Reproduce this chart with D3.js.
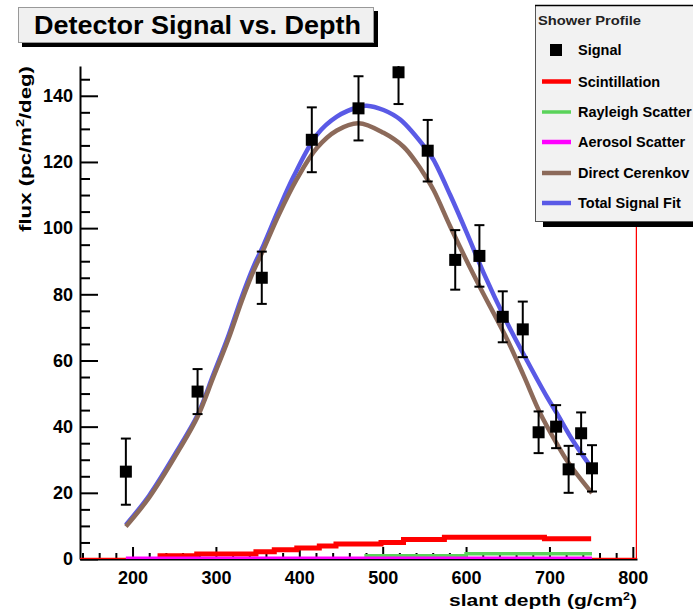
<!DOCTYPE html>
<html><head><meta charset="utf-8">
<script src="https://cdn.jsdelivr.net/npm/d3@7"></script>
<style>
html,body{margin:0;padding:0;background:#fff;}
svg{display:block;font-family:"Liberation Sans",Arial,Helvetica,sans-serif;font-weight:bold;}
</style></head><body>
<svg id="chart" width="693" height="613"></svg>
<script>
// Measured detector signal: slant depth (g/cm²), flux and symmetric error
const signalDepth = [192, 278, 355, 415, 471, 519, 554, 587, 616, 644, 668, 687, 708, 723, 738, 751];
const signalFlux  = [26.4, 50.6, 85.0, 126.7, 136.2, 147.1, 123.4, 90.4, 91.6, 73.2, 69.4, 38.3, 40.0, 27.1, 38.0, 27.4];
const signalErr   = [10.0, 6.8, 7.9, 9.8, 9.7, 9.6, 9.3, 9.0, 9.3, 7.7, 8.4, 6.3, 6.5, 7.1, 6.3, 7.0];

// Total signal fit
const totalDepth = [192, 220, 257, 278, 297, 315, 331, 345, 357, 375, 393, 421, 445, 471, 481, 501, 521, 553, 561, 581, 601, 621, 649, 673, 697, 709, 728, 748];
const totalFlux  = [10.3, 19.2, 34.2, 43.5, 55.8, 67.5, 79.2, 88.3, 94.8, 105.5, 115.5, 128.2, 133.7, 136.6, 137.0, 135.7, 132.8, 123.6, 120.6, 110.0, 98.5, 86.5, 71.5, 60.0, 49.0, 44.0, 35.8, 28.4];

// Direct Cerenkov component
const cerenkovDepth = [192, 220, 257, 278, 297, 315, 331, 345, 357, 375, 397, 421, 445, 471, 501, 525, 541, 549, 561, 581, 601, 617, 649, 669, 689, 709, 723, 751];
const cerenkovFlux  = [9.8, 18.6, 33.5, 43.0, 55.0, 66.5, 78.0, 87.0, 93.5, 103.8, 114.8, 124.2, 129.5, 131.7, 128.8, 124.6, 119.6, 116.6, 111.5, 100.5, 90.0, 82.0, 66.5, 55.5, 44.0, 34.8, 29.0, 19.9];

// Histogrammed components: bin edges (one more than contents) and contents
const scintEdges = [230, 277, 348, 370, 397, 424, 444, 498, 525, 574, 694, 750];
const scintFlux  = [1.0, 1.5, 2.2, 2.8, 3.3, 3.9, 4.5, 5.0, 5.9, 6.6, 6.1];
const rayleighEdges = [478, 600, 751];
const rayleighFlux  = [1.0, 1.6];
const aerosolEdges = [192, 751];
const aerosolFlux  = [0];

// Axes
const xDomain = [137, 805];
const yDomain = [0, 149];
const xTicks = [200, 300, 400, 500, 600, 700, 800];
const yTicks = [0, 20, 40, 60, 80, 100, 120, 140];

const legendHeader = "Shower Profile";
const legendLabels = ["Signal", "Scintillation", "Rayleigh Scatter", "Aerosol Scatter", "Direct Cerenkov", "Total Signal Fit"];
const legendColors = ["#000000", "#ff0000", "#5ad35a", "#ff00ff", "#8c6a5a", "#5a5ae6"];

const svg = d3.select("#chart");
const plot = {left: 80, right: 637, top: 66, bottom: 559};

const x = d3.scaleLinear().domain(xDomain).range([plot.left, plot.right]);
const y = d3.scaleLinear().domain(yDomain).range([plot.bottom, plot.top]);

svg.append("defs").append("clipPath").attr("id", "plotclip")
  .append("rect").attr("x", plot.left).attr("y", plot.top)
  .attr("width", plot.right - plot.left).attr("height", plot.bottom - plot.top);

// ---- Axes ----
const minorX = d3.range(140, 806, 20).filter(v => v % 100 !== 0);
const minorY = d3.range(5, 149, 5).filter(v => v % 20 !== 0);

svg.append("g").attr("transform", `translate(${plot.left},0)`)
  .call(d3.axisLeft(y).tickValues(yTicks).tickSizeInner(-18).tickSizeOuter(0).tickPadding(7).tickFormat(d3.format("d")));
svg.append("g").attr("transform", `translate(${plot.left},0)`)
  .call(d3.axisLeft(y).tickValues(minorY).tickSizeInner(-10).tickSizeOuter(0).tickFormat(""))
  .call(g => g.select(".domain").remove());

svg.append("g").attr("transform", `translate(0,${plot.bottom})`)
  .call(d3.axisBottom(x).tickValues(xTicks).tickSizeInner(-12).tickSizeOuter(0).tickPadding(12).tickFormat(d3.format("d")));
svg.append("g").attr("transform", `translate(0,${plot.bottom})`)
  .call(d3.axisBottom(x).tickValues(minorX).tickSizeInner(-6).tickSizeOuter(0).tickFormat(""))
  .call(g => g.select(".domain").remove());

svg.selectAll(".domain").attr("stroke", "#000").attr("stroke-width", 2);
svg.selectAll(".tick line").attr("stroke", "#000").attr("stroke-width", 2);
svg.selectAll(".tick text").attr("fill", "#000").attr("font-size", 18).attr("font-weight", "bold")
  .attr("font-family", '"Liberation Sans",Arial,sans-serif');

// Axis titles
const yTitle = svg.append("text")
  .attr("transform", `translate(31,${plot.top}) rotate(-90)`)
  .attr("text-anchor", "end").attr("font-size", 17).attr("fill", "#000")
  .attr("textLength", 166).attr("lengthAdjust", "spacingAndGlyphs");
yTitle.append("tspan").text("flux (pc/m");
yTitle.append("tspan").attr("font-size", 11).attr("dy", -7).text("2");
yTitle.append("tspan").attr("dy", 7).text("/deg)");

const xTitle = svg.append("text")
  .attr("x", 637).attr("y", 606)
  .attr("text-anchor", "end").attr("font-size", 17).attr("fill", "#000")
  .attr("textLength", 188).attr("lengthAdjust", "spacingAndGlyphs");
xTitle.append("tspan").text("slant depth (g/cm");
xTitle.append("tspan").attr("font-size", 10).attr("dy", -6).text("2");
xTitle.append("tspan").attr("dy", 6).text(")");

// ---- Data layers ----
const layer = svg.append("g").attr("clip-path", "url(#plotclip)");

function stepPoints(edges, vals) {
  const pts = vals.map((v, i) => [edges[i], v]);
  pts.push([edges[edges.length - 1], vals[vals.length - 1]]);
  return pts;
}
const stepLine = d3.line().x(d => x(d[0])).y(d => y(d[1])).curve(d3.curveStepAfter);

// Scintillation histogram outline along the frame
layer.append("path")
  .attr("d", d3.line().x(d => x(d[0])).y(d => y(d[1]))([[xDomain[0], 0], [xDomain[1], 0], [xDomain[1], yDomain[1]]]))
  .attr("fill", "none").attr("stroke", "#ff0000").attr("stroke-width", 2.5);

layer.append("path").attr("d", stepLine(stepPoints(scintEdges, scintFlux)))
  .attr("fill", "none").attr("stroke", legendColors[1]).attr("stroke-width", 5);
layer.append("path").attr("d", stepLine(stepPoints(rayleighEdges, rayleighFlux)))
  .attr("fill", "none").attr("stroke", legendColors[2]).attr("stroke-width", 3.5);
layer.append("path").attr("d", stepLine(stepPoints(aerosolEdges, aerosolFlux)))
  .attr("fill", "none").attr("stroke", legendColors[3]).attr("stroke-width", 5);

const smooth = d3.line().x(d => x(d[0])).y(d => y(d[1])).curve(d3.curveCatmullRom.alpha(0.5));
layer.append("path").attr("d", smooth(totalDepth.map((d, i) => [d, totalFlux[i]])))
  .attr("fill", "none").attr("stroke", legendColors[5]).attr("stroke-width", 4.5);
layer.append("path").attr("d", smooth(cerenkovDepth.map((d, i) => [d, cerenkovFlux[i]])))
  .attr("fill", "none").attr("stroke", legendColors[4]).attr("stroke-width", 4.5);

// Signal points with error bars
const pts = signalDepth.map((d, i) => ({d, f: signalFlux[i], e: signalErr[i]}));
const eb = layer.append("g").attr("stroke", "#000").attr("stroke-width", 2);
pts.forEach(p => {
  const cx = x(p.d), y0 = y(p.f - p.e), y1 = y(p.f + p.e);
  eb.append("line").attr("x1", cx).attr("x2", cx).attr("y1", y0).attr("y2", y1);
  eb.append("line").attr("x1", cx - 5).attr("x2", cx + 5).attr("y1", y0).attr("y2", y0);
  eb.append("line").attr("x1", cx - 5).attr("x2", cx + 5).attr("y1", y1).attr("y2", y1);
});
layer.append("g").selectAll("rect").data(pts).join("rect")
  .attr("x", p => x(p.d) - 6).attr("y", p => y(p.f) - 6)
  .attr("width", 12).attr("height", 12).attr("fill", "#000");

// ---- Title box ----
svg.append("rect").attr("x", 22).attr("y", 11).attr("width", 356).attr("height", 36).attr("fill", "#000");
svg.append("rect").attr("x", 18.5).attr("y", 7.5).attr("width", 355).attr("height", 35)
  .attr("fill", "#f0f0f0").attr("stroke", "#999").attr("stroke-width", 1);
svg.append("text").attr("x", 34).attr("y", 34).attr("font-size", 25).attr("fill", "#000")
  .attr("textLength", 327).attr("lengthAdjust", "spacingAndGlyphs")
  .text("Detector Signal vs. Depth");

// ---- Legend ----
const lg = svg.append("g");
lg.append("rect").attr("x", 543).attr("y", 11).attr("width", 160).attr("height", 216).attr("fill", "#000");
lg.append("rect").attr("x", 535.5).attr("y", 5.5).attr("width", 170).attr("height", 216)
  .attr("fill", "#f2f2f2").attr("stroke", "#555").attr("stroke-width", 1);
lg.append("line").attr("x1", 535).attr("x2", 693).attr("y1", 5.5).attr("y2", 5.5).attr("stroke", "#000").attr("stroke-width", 1.5);
lg.append("text").attr("x", 538).attr("y", 25).attr("font-size", 13).attr("fill", "#222")
  .attr("textLength", 103).attr("lengthAdjust", "spacingAndGlyphs").text(legendHeader);

const rowY = [50, 81.5, 112, 142, 173, 203];
legendLabels.forEach((lab, i) => {
  const cy = rowY[i];
  if (i === 0) {
    lg.append("rect").attr("x", 550).attr("y", cy - 6).attr("width", 12).attr("height", 12).attr("fill", "#000");
  } else {
    lg.append("line").attr("x1", 542).attr("x2", 571).attr("y1", cy).attr("y2", cy)
      .attr("stroke", legendColors[i]).attr("stroke-width", i === 2 ? 3.5 : 4.5);
  }
  lg.append("text").attr("x", 578).attr("y", cy + 5).attr("font-size", 14.5).attr("fill", "#000").text(lab);
});
</script>
</body></html>
